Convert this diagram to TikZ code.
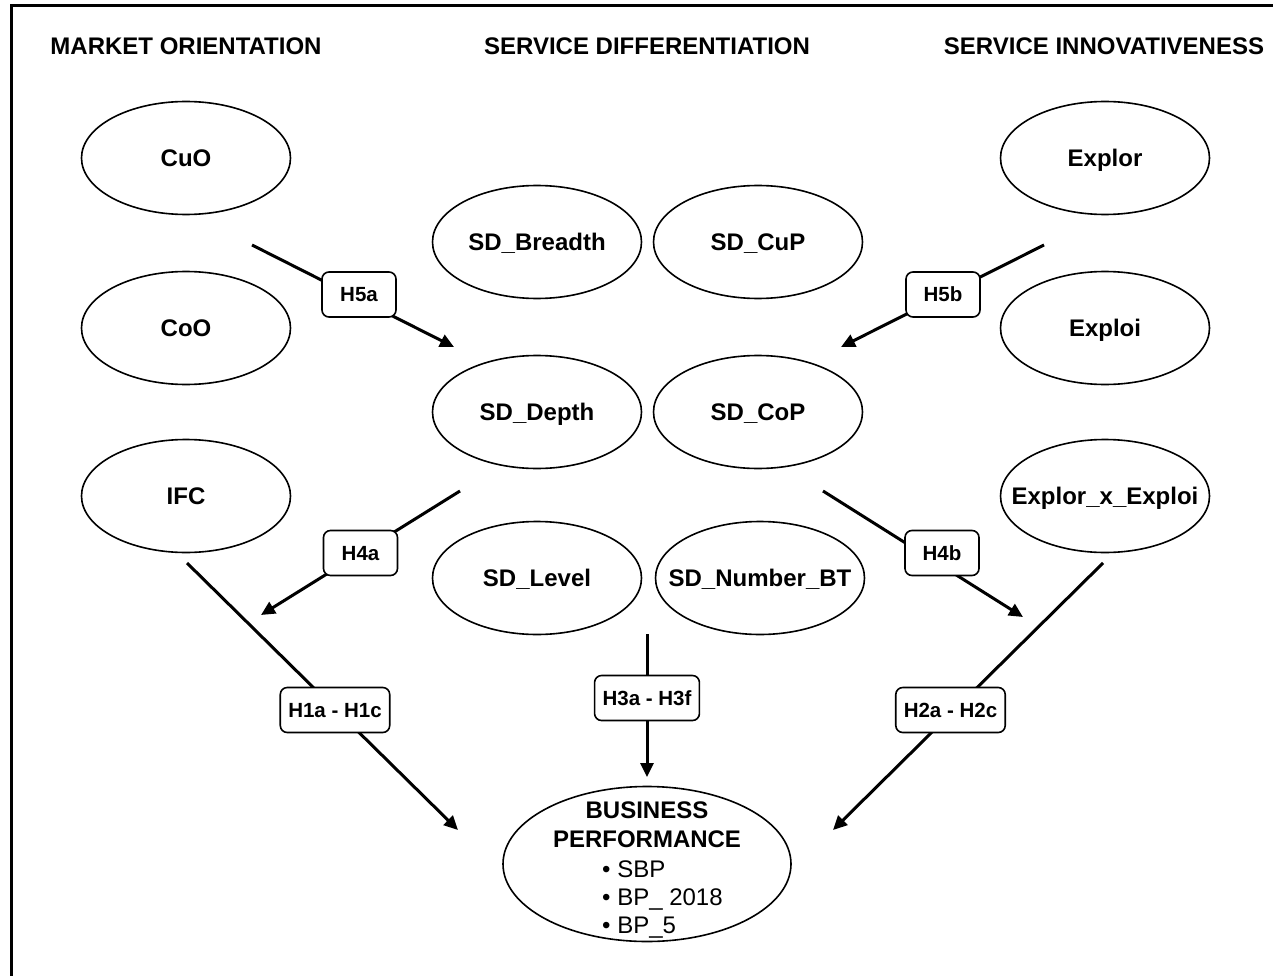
\documentclass[tikz,border=0pt]{standalone}
\usepackage{fontspec}
\setmainfont{Liberation Sans}
\usetikzlibrary{shapes.geometric,arrows.meta}
\begin{document}
\begin{tikzpicture}[x=1pt,y=-1pt,
  construct/.style={ellipse, draw, line width=1.6pt, minimum width=209pt, minimum height=113pt,
    inner xsep=-20pt, inner ysep=0pt, text height=17.2pt, text depth=0pt,
    font=\fontsize{24}{28}\selectfont\bfseries},
  header/.style={font=\fontsize{24}{28}\selectfont\bfseries, anchor=base, inner sep=0pt},
  hyp/.style={draw, fill=white, line width=1.6pt, rounded corners=7pt, minimum width=74pt, minimum height=45pt,
    inner xsep=8pt, inner ysep=0pt, text height=14.7pt, text depth=0pt,
    font=\fontsize{20.5}{24}\selectfont\bfseries},
  link/.style={line width=3pt, -{Triangle[length=14pt,width=13pt]}},
  bptext/.style={inner sep=0pt, font=\fontsize{24}{28}\selectfont}
]
\useasboundingbox (0,0) rectangle (1273,976);

% frame (left and top edges)
\draw[line width=3pt] (11,976) -- (11,6) -- (1273,6);

% column headers
\node[header] (hMO) at (186,55) {MARKET ORIENTATION};
\node[header] (hSD) at (647,55) {SERVICE DIFFERENTIATION};
\node[header] (hSI) at (1104,55) {SERVICE INNOVATIVENESS};

% market orientation constructs
\node[construct] (CuO) at (186,158) {CuO};
\node[construct] (CoO) at (186,328) {CoO};
\node[construct] (IFC) at (186,496) {IFC};

% service differentiation constructs
\node[construct] (SDB) at (537,242) {SD\_Breadth};
\node[construct] (SDCuP) at (758,242) {SD\_CuP};
\node[construct] (SDD) at (537,412) {SD\_Depth};
\node[construct] (SDCoP) at (758,412) {SD\_CoP};
\node[construct] (SDL) at (537,578) {SD\_Level};
\node[construct] (SDN) at (760,578) {SD\_Number\_BT};

% service innovativeness constructs
\node[construct] (Explor) at (1105,158) {Explor};
\node[construct] (Exploi) at (1105,328) {Exploi};
\node[construct] (ExEx) at (1105,496) {Explor\_x\_Exploi};

% business performance
\node[ellipse, draw, line width=1.6pt, minimum width=288pt, minimum height=155pt, inner sep=0pt] (BP) at (647,864) {};
\node[bptext, anchor=base, font=\fontsize{24}{28}\selectfont\bfseries] (bp1) at (647,818) {BUSINESS};
\node[bptext, anchor=base, font=\fontsize{24}{28}\selectfont\bfseries] (bp2) at (647,847) {PERFORMANCE};
\node[bptext, anchor=base west] (bp3) at (602,877) {\textbullet\ SBP};
\node[bptext, anchor=base west] (bp4) at (602,905) {\textbullet\ BP\_ 2018};
\node[bptext, anchor=base west] (bp5) at (602,933) {\textbullet\ BP\_5};

% connector end points
\coordinate (s5a) at (252,245);  \coordinate (e5a) at (454,347);
\coordinate (s5b) at (1044,245); \coordinate (e5b) at (841,347);
\coordinate (s4a) at (460,491);  \coordinate (e4a) at (261,615);
\coordinate (s4b) at (823,491);  \coordinate (e4b) at (1023,617);
\coordinate (s1) at (187,563);   \coordinate (e1) at (458,830);
\coordinate (s2) at (1103,563);  \coordinate (e2) at (833,830);
\coordinate (s3) at (647,634);   \coordinate (e3) at (647,777);

% connectors
\draw[link] (s5a) -- (e5a);
\draw[link] (s5b) -- (e5b);
\draw[link] (s4a) -- (e4a);
\draw[link] (s4b) -- (e4b);
\draw[link] (s1) -- (e1);
\draw[link] (s2) -- (e2);
\draw[link] (s3) -- (e3);

% hypothesis labels
\node[hyp] (H5a) at (359,294.5) {H5a};
\node[hyp] (H5b) at (943,294.5) {H5b};
\node[hyp] (H4a) at (360.5,553) {H4a};
\node[hyp] (H4b) at (942,553) {H4b};
\node[hyp] (H1) at (335,710) {H1a - H1c};
\node[hyp] (H2) at (950.5,710) {H2a - H2c};
\node[hyp] (H3) at (647,698) {H3a - H3f};
\end{tikzpicture}
\end{document}
